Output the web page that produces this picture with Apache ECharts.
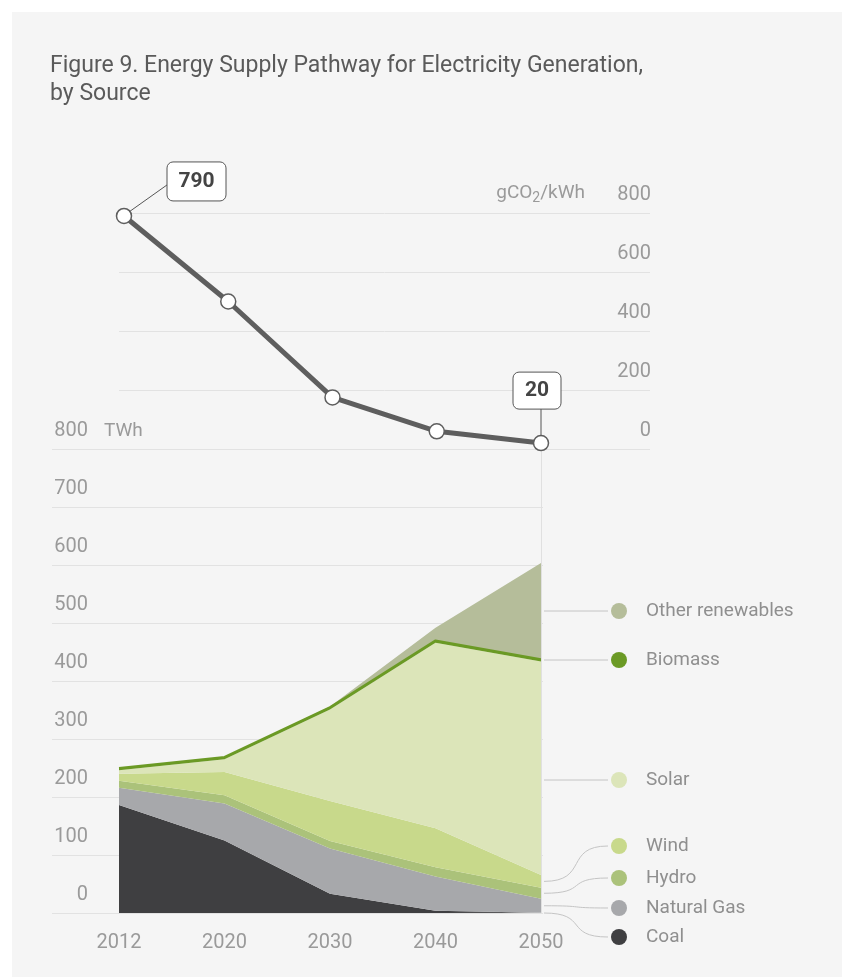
<!DOCTYPE html>
<html>
<head>
<meta charset="utf-8">
<script src="https://cdn.jsdelivr.net/npm/echarts@6/dist/echarts.min.js"></script>
<style>
html,body{margin:0;padding:0;background:#fff;}
#chart{position:absolute;left:0;top:0;width:842px;height:977px;
background:linear-gradient(#fff,#fff) top left/100% 12px no-repeat,linear-gradient(#fff,#fff) top left/12px 100% no-repeat,#f5f5f5;}
</style>
</head>
<body>
<div id="chart"></div>
<script>
// ---- data ----
var years = ['2012', '2020', '2030', '2040', '2050'];
var coal = [186, 125, 33, 4, 0.5];
var naturalGas = [30, 64, 78, 59, 24];
var hydro = [12, 14, 13, 16, 19];
var wind = [12, 40, 69, 67, 22];
var solar = [6, 22, 158, 320, 368];
var biomass = [4, 4, 4, 4, 4];
var otherRenewables = [0, 0, 1, 22, 166];
var intensity = [790, 500, 175, 60, 20];
var twhTicks = [0, 800, 100];
var co2Ticks = [0, 800, 200];
var legendNames = ['Other renewables', 'Biomass', 'Solar', 'Wind', 'Hydro', 'Natural Gas', 'Coal'];

var FONT = '"Liberation Sans Narrow", "Roboto", "Liberation Sans", sans-serif';
var colors = {
  'Coal': '#3f3f41',
  'Natural Gas': '#a7a8ab',
  'Hydro': '#abc27a',
  'Wind': '#c8d98b',
  'Solar': '#dce5b9',
  'Biomass': '#6b9a25',
  'Other renewables': '#b5bd9a'
};
var seriesData = {
  'Coal': coal, 'Natural Gas': naturalGas, 'Hydro': hydro, 'Wind': wind,
  'Solar': solar, 'Biomass': biomass, 'Other renewables': otherRenewables
};
var stackOrder = ['Coal', 'Natural Gas', 'Hydro', 'Wind', 'Solar', 'Biomass', 'Other renewables'];

var chart = echarts.init(document.getElementById('chart'), null, {renderer: 'canvas'});

var areaSeries = stackOrder.map(function (name) {
  var s = {
    name: name, type: 'line', stack: 'twh', xAxisIndex: 1, yAxisIndex: 1,
    data: seriesData[name], symbol: 'none', silent: true,
    lineStyle: {width: 0, color: colors[name]},
    areaStyle: {color: colors[name], opacity: 1},
    itemStyle: {color: colors[name]}, z: 3
  };
  if (name === 'Biomass') { s.lineStyle = {width: 2, color: colors[name]}; s.z = 4; }
  if (name === 'Coal') {
    s.markLine = {
      silent: true, symbol: 'none', label: {show: false},
      lineStyle: {color: '#e0e0e0', width: 1, type: 'solid'},
      data: [{xAxis: '2050'}]
    };
  }
  return s;
});

var labelStyle = {color: '#9a9a9a', fontSize: 20, fontFamily: FONT};

chart.setOption({
  animation: false,
  backgroundColor: 'transparent',
  title: {
    text: 'Figure 9. Energy Supply Pathway for Electricity Generation,\nby Source',
    left: 50, top: 52, padding: 0,
    textStyle: {fontSize: 23, lineHeight: 28, fontWeight: 'normal', color: '#5a5a5a', fontFamily: FONT}
  },
  grid: [
    {left: 52, right: 299, top: 449, bottom: 64},   // 0 bottom background
    {left: 119, right: 301, top: 449, bottom: 64},  // 1 bottom data
    {left: 119, right: 192, top: 213, bottom: 528}, // 2 top background
    {left: 124, right: 301, top: 213, bottom: 528}  // 3 top data
  ],
  xAxis: [
    {gridIndex: 0, type: 'value', min: 0, max: 1, show: false},
    {gridIndex: 1, type: 'category', data: years, boundaryGap: false,
      axisLine: {show: false}, axisTick: {show: false}, splitLine: {show: false},
      axisLabel: Object.assign({margin: 20}, labelStyle)},
    {gridIndex: 2, type: 'value', min: 0, max: 1, show: false},
    {gridIndex: 3, type: 'category', data: years, boundaryGap: false, show: false}
  ],
  yAxis: [
    {gridIndex: 0, type: 'value', min: twhTicks[0], max: twhTicks[1], interval: twhTicks[2],
      axisLine: {show: false}, axisTick: {show: false},
      splitLine: {lineStyle: {color: '#e2e2e2', width: 1}},
      axisLabel: Object.assign({inside: true, align: 'right', margin: 36, verticalAlign: 'bottom', padding: [0, 0, 8, 0]}, labelStyle)},
    {gridIndex: 1, type: 'value', min: twhTicks[0], max: twhTicks[1], show: false},
    {gridIndex: 2, type: 'value', position: 'right', min: co2Ticks[0], max: co2Ticks[1], interval: co2Ticks[2],
      axisLine: {show: false}, axisTick: {show: false},
      splitLine: {lineStyle: {color: '#e2e2e2', width: 1}},
      axisLabel: Object.assign({inside: true, align: 'right', margin: -1, verticalAlign: 'bottom', padding: [0, 0, 8, 0]}, labelStyle)},
    {gridIndex: 3, type: 'value', min: co2Ticks[0], max: co2Ticks[1], show: false}
  ],
  series: areaSeries.concat([{
    name: 'gCO2/kWh', type: 'line', xAxisIndex: 3, yAxisIndex: 3,
    data: intensity, symbol: 'circle', symbolSize: 15, z: 10,
    lineStyle: {color: '#5e5e5e', width: 5},
    itemStyle: {color: '#ffffff', borderColor: '#5e5e5e', borderWidth: 1.5}
  }])
});

// ---- annotations built from the library's coordinate conversion ----
function px(gridSeriesIdx, xi, y) {
  return chart.convertToPixel({seriesIndex: gridSeriesIdx}, [xi, y]);
}
var lineSeriesIdx = stackOrder.length;
var g = [];
var txt = '#8f8f8f';

// Axis unit labels
var p800 = chart.convertToPixel({yAxisIndex: 0}, 800);
g.push({type: 'text', x: 104, y: p800 - 8, style: {text: 'TWh', fill: '#9a9a9a', font: '19px ' + FONT, textAlign: 'left', textVerticalAlign: 'bottom'}});
var c800 = chart.convertToPixel({yAxisIndex: 2}, 800);
g.push({type: 'text', x: 585, y: c800 - 8, style: {
  text: 'gCO{s|2}/kWh', fill: '#9a9a9a', font: '19px ' + FONT, textAlign: 'right', textVerticalAlign: 'bottom',
  rich: {s: {fontSize: 14, fontFamily: FONT, fill: '#9a9a9a', padding: [10, 0, 0, 0]}}
}});

// Value boxes
var pFirst = px(lineSeriesIdx, 0, intensity[0]);
var pLast = px(lineSeriesIdx, intensity.length - 1, intensity[intensity.length - 1]);
var box1 = {x: pFirst[0] + 43, y: pFirst[1] - 54, w: 59, h: 39};
g.push({type: 'line', z: 20, shape: {x1: pFirst[0] + 5, y1: pFirst[1] - 4, x2: box1.x, y2: box1.y + box1.h - 16}, style: {stroke: '#555', lineWidth: 1}});
g.push({type: 'rect', z: 21, shape: {x: box1.x, y: box1.y, width: box1.w, height: box1.h, r: 6}, style: {fill: '#fff', stroke: '#555', lineWidth: 1}});
g.push({type: 'text', z: 22, x: box1.x + box1.w / 2, y: box1.y + box1.h / 2, style: {text: String(intensity[0]), fill: '#444', font: 'bold 21px ' + FONT, textAlign: 'center', textVerticalAlign: 'middle'}});
var box2 = {x: pLast[0] - 28, y: pLast[1] - 71, w: 48, h: 37};
g.push({type: 'line', z: 20, shape: {x1: pLast[0], y1: box2.y + box2.h, x2: pLast[0], y2: pLast[1] - 7}, style: {stroke: '#555', lineWidth: 1}});
g.push({type: 'rect', z: 21, shape: {x: box2.x, y: box2.y, width: box2.w, height: box2.h, r: 6}, style: {fill: '#fff', stroke: '#555', lineWidth: 1}});
g.push({type: 'text', z: 22, x: box2.x + box2.w / 2, y: box2.y + box2.h / 2, style: {text: String(intensity[intensity.length - 1]), fill: '#444', font: 'bold 21px ' + FONT, textAlign: 'center', textVerticalAlign: 'middle'}});

// Legend with leader lines
var legendY = {'Other renewables': 611, 'Biomass': 660, 'Solar': 780, 'Wind': 846, 'Hydro': 878, 'Natural Gas': 908, 'Coal': 937};
var last = years.length - 1;
var cum = 0, mids = {};
stackOrder.forEach(function (n) {
  var v = seriesData[n][last];
  mids[n] = (n === 'Coal') ? 0 : cum + v / 2;
  cum += v;
});
var x0 = px(0, last, 0)[0] + 3, x1 = 608;
legendNames.forEach(function (n) {
  var ly = legendY[n];
  var sy;
  if (n === 'Wind' || n === 'Hydro' || n === 'Natural Gas' || n === 'Coal') {
    sy = chart.convertToPixel({yAxisIndex: 1}, mids[n]);
  } else {
    sy = ly;
  }
  if (Math.abs(sy - ly) < 1) {
    g.push({type: 'line', shape: {x1: x0, y1: ly, x2: x1, y2: ly}, style: {stroke: '#c4c4c4', lineWidth: 1}});
  } else {
    g.push({type: 'bezierCurve', shape: {x1: x0, y1: sy, cpx1: x0 + 45, cpy1: sy, cpx2: x0 + 20, cpy2: ly, x2: x1, y2: ly}, style: {stroke: '#c4c4c4', lineWidth: 1, fill: null}});
  }
  g.push({type: 'circle', shape: {cx: 619, cy: ly, r: 8}, style: {fill: colors[n]}});
  g.push({type: 'text', x: 646, y: ly, style: {text: n, fill: txt, font: '19px ' + FONT, textAlign: 'left', textVerticalAlign: 'middle'}});
});

chart.setOption({graphic: {elements: g}});
</script>
</body>
</html>
